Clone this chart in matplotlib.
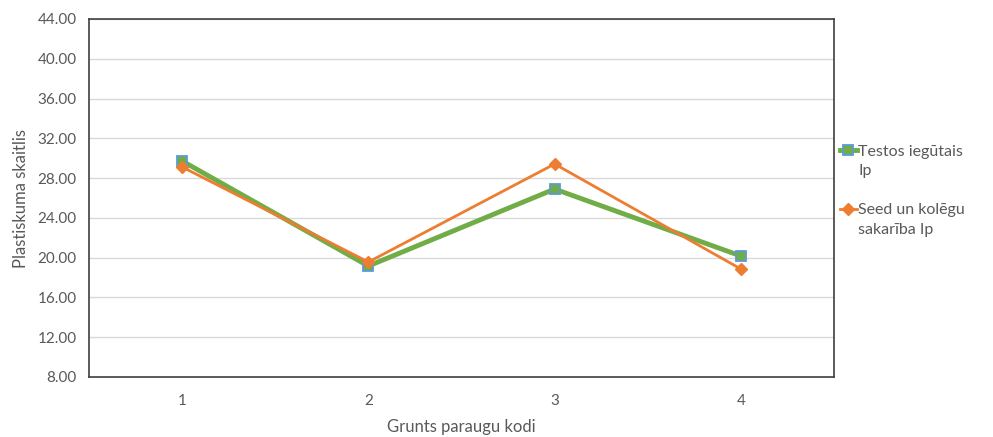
import numpy as np
import matplotlib.pyplot as plt
from matplotlib.lines import Line2D

plt.rcParams['font.family'] = ['Lato', 'DejaVu Sans']

kodi = ['1', '2', '3', '4']
testos_ip = [29.72, 19.16, 26.90, 20.17]
seed_ip = [29.12, 19.56, 29.42, 18.86]
nosaukumi = [('Testos iegūtais', 'Ip'), ('Seed un kolēgu', 'sakarība Ip')]

txt = '#595959'
x = np.arange(1, len(kodi) + 1)

fig = plt.figure(figsize=(9.93, 4.37), dpi=100)
ax = fig.add_axes([89 / 993, 1 - 377 / 437, (834 - 89) / 993, (377 - 19) / 437])

l1, = ax.plot(x, testos_ip, color='#70AD47', lw=3.5, marker='s', ms=7,
              mfc='#70AD47', mec='#5B9BD5', mew=1.3, zorder=3)
l2, = ax.plot(x, seed_ip, color='#ED7D31', lw=2, marker='D', ms=6,
              mfc='#ED7D31', mec='#ED7D31', zorder=4)

ax.set_xlim(0.5, 4.5)
ax.set_ylim(8, 44)
ax.set_yticks(np.arange(8, 45, 4))
ax.set_yticklabels(['%.2f' % v for v in np.arange(8, 45, 4)])
ax.set_xticks(x)
ax.set_xticklabels(kodi)
ax.grid(axis='y', color='#D9D9D9', lw=1)
ax.set_axisbelow(True)
ax.tick_params(axis='y', length=0, colors=txt, labelsize=11, pad=9)
ax.tick_params(axis='x', length=0, colors=txt, labelsize=11, pad=12)
for s in ax.spines.values():
    s.set_color('#404040')
    s.set_linewidth(1.2)

ax.set_xlabel('Grunts paraugu kodi', color=txt, fontsize=12, labelpad=8)
ax.set_ylabel('Plastiskuma skaitlis', color=txt, fontsize=12, labelpad=6)

# legend: first line of each label next to the marker, second line below
tukss = Line2D([], [], lw=0)
handles = [l1, tukss, tukss, l2, tukss]
labels = [nosaukumi[0][0], nosaukumi[0][1], '', nosaukumi[1][0], nosaukumi[1][1]]
ax.legend(handles, labels, loc='upper left', bbox_to_anchor=(0.997, 0.672), frameon=False,
          fontsize=11.5, labelcolor=txt, handlelength=1.05, handletextpad=0.1,
          labelspacing=0.34, borderaxespad=0.3, borderpad=0.2)

fig.savefig('out.png', dpi=100)
